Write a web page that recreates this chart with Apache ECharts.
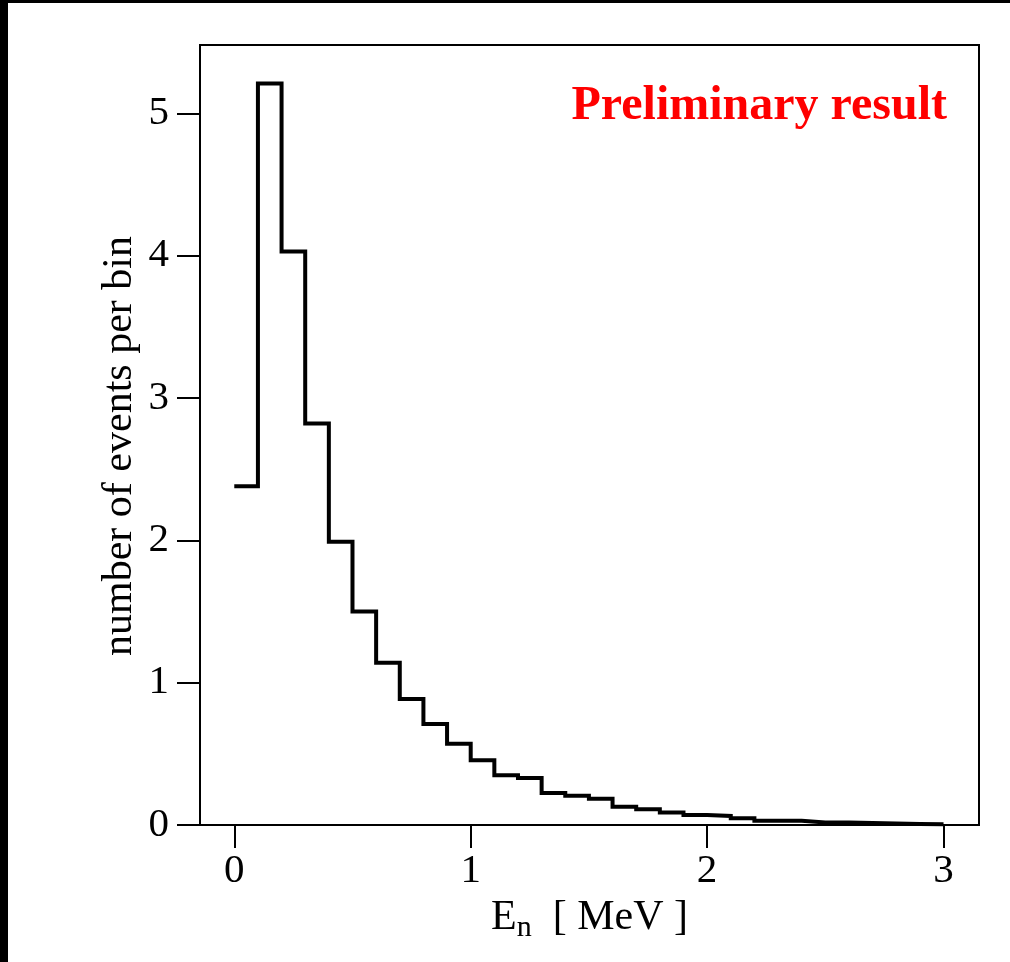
<!DOCTYPE html>
<html>
<head>
<meta charset="utf-8">
<script src="https://cdn.jsdelivr.net/npm/echarts@6/dist/echarts.min.js"></script>
<style>
html,body{margin:0;padding:0;background:#fff;}
#chart{width:1010px;height:962px;}
</style>
</head>
<body>
<div id="chart"></div>
<script>
// Histogram bin edges (MeV) and counts per bin
const binEdges = [0.0,0.1,0.2,0.3,0.4,0.5,0.6,0.7,0.8,0.9,1.0,1.1,1.2,1.3,1.4,1.5,1.6,1.7,1.8,1.9,2.0,2.1,2.2,2.3,2.4,2.5,2.6,2.7,2.8,2.9,3.0];
const counts = [2.38,5.21,4.03,2.82,1.99,1.50,1.14,0.885,0.71,0.57,0.455,0.35,0.33,0.225,0.205,0.185,0.128,0.11,0.088,0.07,0.063,0.047,0.03,0.03,0.018,0.018,0.014,0.01,0.007,0.005];
const xTicks = [0,1,2,3];
const yTicks = [0,1,2,3,4,5];
const xTitle = ['E','n','  [ MeV ]'];
const yTitle = 'number of events per bin';
const note = 'Preliminary result';

const stepData = binEdges.map((e, i) => [e, counts[Math.min(i, counts.length - 1)]]);

const FONT = '"Liberation Serif", "Times New Roman", serif';
const chart = echarts.init(document.getElementById('chart'), null, {renderer: 'canvas'});
chart.setOption({
  backgroundColor: '#fff',
  animation: false,
  grid: {left: 200, right: 31, top: 45, bottom: 137, show: true, borderColor: '#000', borderWidth: 2, backgroundColor: '#fff'},
  xAxis: {
    type: 'value', min: -0.145, max: 3.15,
    axisLine: {show: false, onZero: false},
    splitLine: {show: false},
    axisTick: {show: true, inside: false, length: 23, lineStyle: {color: '#000', width: 2}, customValues: xTicks},
    axisLabel: {show: true, color: '#000', fontFamily: FONT, fontSize: 41, margin: 26, customValues: xTicks},
    name: '{e|' + xTitle[0] + '}{s|' + xTitle[1] + '}{e|' + xTitle[2] + '}',
    nameLocation: 'middle', nameGap: 72,
    nameTextStyle: {
      fontFamily: FONT, fontSize: 42, color: '#000',
      rich: {
        e: {fontFamily: FONT, fontSize: 42, color: '#000', verticalAlign: 'bottom'},
        s: {fontFamily: FONT, fontSize: 30, color: '#000', verticalAlign: 'bottom', padding: [0, 0, -4, 0]}
      }
    }
  },
  yAxis: {
    type: 'value', min: 0, max: 5.48,
    axisLine: {show: false, onZero: false},
    splitLine: {show: false},
    axisTick: {show: true, inside: false, length: 23, lineStyle: {color: '#000', width: 2}, customValues: yTicks},
    axisLabel: {show: true, color: '#000', fontFamily: FONT, fontSize: 41, margin: 31, customValues: yTicks}
  },
  graphic: [
    {type: 'rect', silent: true, z: 100, shape: {x: 0, y: 0, width: 1010, height: 3}, style: {fill: '#000'}},
    {type: 'rect', silent: true, z: 100, shape: {x: 0, y: 0, width: 8, height: 962}, style: {fill: '#000'}},
    {type: 'text', right: 63, top: 83, z: 50, style: {text: note, fill: '#ff0000', font: 'bold 48px ' + FONT}},
    {type: 'text', x: 120, y: 446, rotation: Math.PI / 2, z: 50,
     style: {text: yTitle, fill: '#000', font: '42px ' + FONT, textAlign: 'center', textVerticalAlign: 'middle'}}
  ],
  series: [{
    type: 'line', step: 'end', data: stepData, symbol: 'none', clip: false,
    lineStyle: {color: '#000', width: 4, join: 'miter', cap: 'butt'}
  }]
});
</script>
</body>
</html>
